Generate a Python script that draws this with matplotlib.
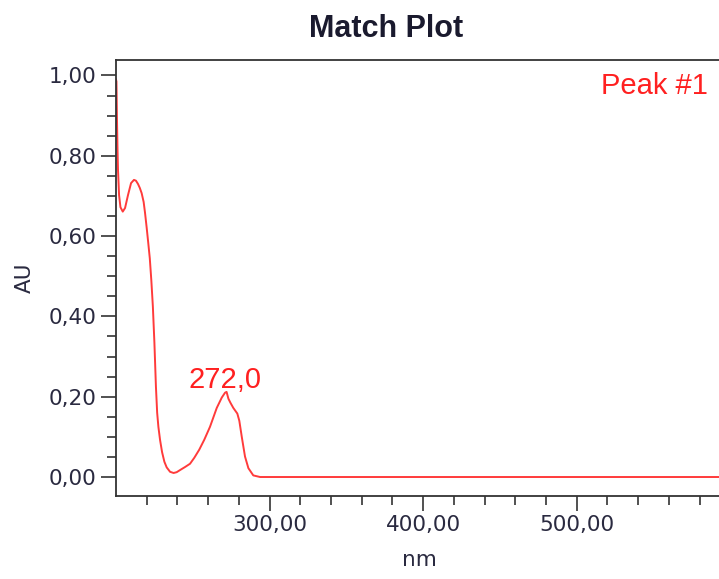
import numpy as np
import matplotlib
matplotlib.use("Agg")
import matplotlib.pyplot as plt
from matplotlib.ticker import FixedLocator, MultipleLocator, FuncFormatter

# spectrum
wavelength = [200.0, 200.3, 200.65, 201.0, 201.3, 202.0, 202.9, 204.4, 205.9, 207.8,
              209.8, 211.7, 213.0, 214.3, 215.5, 216.7, 218.0, 218.9, 220.0, 221.0,
              222.0, 223.0, 224.0, 225.0, 226.0, 226.8, 227.6, 228.7, 230.0, 231.5,
              233.0, 235.2, 237.5, 239.5, 242.0, 245.0, 248.2, 251.0, 254.2, 257.5,
              261.2, 265.6, 268.9, 271.0, 272.0, 273.2, 274.5, 276.4, 279.0, 280.3,
              281.9, 284.0, 286.2, 289.4, 293.8, 300.0, 400.0, 500.0, 600.0]
absorbance = [0.99, 0.985, 0.889, 0.814, 0.765, 0.702, 0.672, 0.661, 0.670, 0.702,
              0.732, 0.740, 0.738, 0.730, 0.720, 0.707, 0.685, 0.658, 0.620, 0.583,
              0.545, 0.490, 0.425, 0.335, 0.225, 0.160, 0.125, 0.092, 0.062, 0.038,
              0.024, 0.013, 0.010, 0.012, 0.018, 0.025, 0.033, 0.048, 0.068, 0.093,
              0.125, 0.172, 0.198, 0.210, 0.212, 0.195, 0.185, 0.172, 0.158, 0.140,
              0.100, 0.051, 0.022, 0.004, 0.0, 0.0, 0.0, 0.0, 0.0]
peak_nm = 272.0
peak_au = 0.212
peak_name = "Peak #1"

x_major = [300, 400, 500]
x_minor = [v for v in range(220, 600, 20) if v % 100 != 0]

fig = plt.figure(figsize=(7.19, 5.79), dpi=100)
ax = fig.add_axes([116 / 719, 1 - 496 / 579, (730.3 - 116) / 719, (496 - 60) / 579])

ax.plot(wavelength, absorbance, color="#ff3b3b", lw=1.4)
ax.set_xlim(200, 600)
ax.set_ylim(-0.0473, 1.0386)

comma = FuncFormatter(lambda v, p: f"{v:.2f}".replace(".", ","))
ax.xaxis.set_major_locator(FixedLocator(x_major))
ax.xaxis.set_minor_locator(FixedLocator(x_minor))
ax.yaxis.set_major_locator(MultipleLocator(0.2))
ax.yaxis.set_minor_locator(MultipleLocator(0.05))
ax.xaxis.set_major_formatter(comma)
ax.yaxis.set_major_formatter(comma)

for s in ax.spines.values():
    s.set_color("#333333")
    s.set_linewidth(1.3)
ax.tick_params(which="major", length=11, width=1.2, color="#333333",
               labelsize=15.5, labelcolor="#2a2a40", pad=3)
ax.tick_params(which="minor", length=6.5, width=1.2, color="#333333")

ax.set_xlabel("nm", fontsize=15.5, color="#2a2a40")
ax.set_ylabel("AU", fontsize=15.5, color="#2a2a40", labelpad=10)
ax.xaxis.set_label_coords((419 - 116) / (730.3 - 116), -0.125)

ax.text(271.3, 0.222, f"{peak_nm:.1f}".replace(".", ","),
        color="#ff2020", fontsize=21, family="Liberation Sans",
        ha="center", va="baseline")
fig.text(708 / 719, 1 - 86 / 579, peak_name, color="#ff2020", fontsize=21,
         family="Liberation Sans", ha="right", va="center")
fig.text(386 / 719, 1 - 29 / 579, "Match Plot", fontsize=22, fontweight="bold",
         family="Liberation Sans", color="#1a1a2e", ha="center", va="center")

fig.savefig("out.png", dpi=100)
